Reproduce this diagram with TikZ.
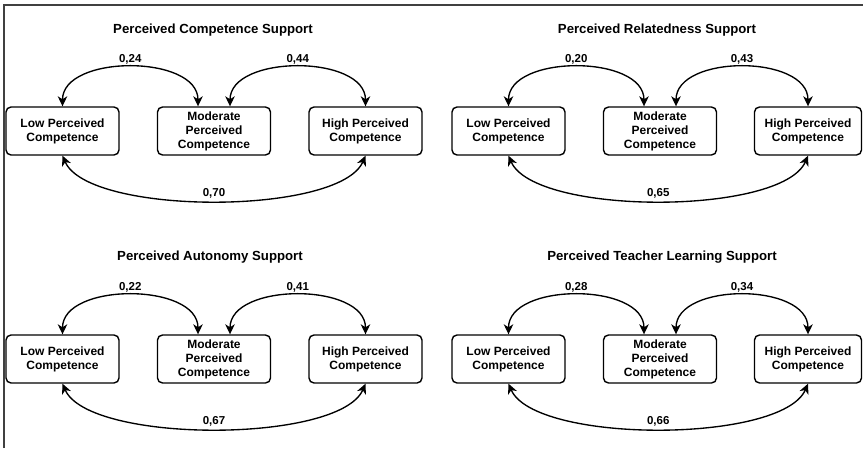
\documentclass[tikz,border=0pt]{standalone}
\usepackage{fontspec}
\setmainfont{Liberation Sans}
\usetikzlibrary{arrows.meta, calc}
\definecolor{framegray}{HTML}{404040}

\begin{document}
\begin{tikzpicture}[x=1pt, y=-1pt, >={Stealth[length=10pt, width=9.5pt, inset=3pt]}, line width=1.35pt,
  grp/.style={draw, rounded corners=5pt, line width=1.4pt, minimum width=113pt, minimum height=48pt,
    align=center, inner sep=2pt, font=\fontsize{12}{14}\selectfont\bfseries},
  heading/.style={font=\fontsize{13.2}{16}\selectfont\bfseries},
  coef/.style={font=\fontsize{11.5}{14}\selectfont\bfseries, inner sep=2pt}]
  \useasboundingbox (0,0) rectangle (863,448);
  \draw[line width=1.5pt, framegray] (4,448) -- (4,5) -- (863,5);

  % competence support (oben links)
  \node[heading] (Tc) at (213,30) {Perceived Competence Support};
  \node[grp] (Lc) at (62.5,131) {Low Perceived\\Competence};
  \node[grp] (Mc) at (214,131) {Moderate\\Perceived\\Competence};
  \node[grp] (Hc) at (365.5,131) {High Perceived\\Competence};
  \draw[<->] (Lc.north) .. controls +(0,-52) and +(0,-52) .. ($(Mc.north)+(-16,0)$) node[coef, midway, above]{0,24};
  \draw[<->] ($(Mc.north)+(16,0)$) .. controls +(0,-52) and +(0,-52) .. (Hc.north) node[coef, midway, above]{0,44};
  \draw[<->] (Lc.south) .. controls +(26,60) and +(-26,60) .. (Hc.south) node[coef, midway, above]{0,70};

  % relatedness support (oben rechts)
  \node[heading] (Tr) at (657,30) {Perceived Relatedness Support};
  \node[grp] (Lr) at (508.5,131) {Low Perceived\\Competence};
  \node[grp] (Mr) at (660,131) {Moderate\\Perceived\\Competence};
  \node[grp, minimum width=107pt] (Hr) at (808,131) {High Perceived\\Competence};
  \draw[<->] (Lr.north) .. controls +(0,-52) and +(0,-52) .. ($(Mr.north)+(-16,0)$) node[coef, midway, above]{0,20};
  \draw[<->] ($(Mr.north)+(16,0)$) .. controls +(0,-52) and +(0,-52) .. (Hr.north) node[coef, midway, above]{0,43};
  \draw[<->] (Lr.south) .. controls +(26,60) and +(-26,60) .. (Hr.south) node[coef, midway, above]{0,65};

  % autonomy support (unten links)
  \node[heading] (Ta) at (210,257) {Perceived Autonomy Support};
  \node[grp] (La) at (62.5,359) {Low Perceived\\Competence};
  \node[grp] (Ma) at (214,359) {Moderate\\Perceived\\Competence};
  \node[grp] (Ha) at (365.5,359) {High Perceived\\Competence};
  \draw[<->] (La.north) .. controls +(0,-52) and +(0,-52) .. ($(Ma.north)+(-16,0)$) node[coef, midway, above]{0,22};
  \draw[<->] ($(Ma.north)+(16,0)$) .. controls +(0,-52) and +(0,-52) .. (Ha.north) node[coef, midway, above]{0,41};
  \draw[<->] (La.south) .. controls +(26,60) and +(-26,60) .. (Ha.south) node[coef, midway, above]{0,67};

  % teacher learning support (unten rechts)
  \node[heading] (Tt) at (662,257) {Perceived Teacher Learning Support};
  \node[grp] (Lt) at (508.5,359) {Low Perceived\\Competence};
  \node[grp] (Mt) at (660,359) {Moderate\\Perceived\\Competence};
  \node[grp, minimum width=107pt] (Ht) at (808,359) {High Perceived\\Competence};
  \draw[<->] (Lt.north) .. controls +(0,-52) and +(0,-52) .. ($(Mt.north)+(-16,0)$) node[coef, midway, above]{0,28};
  \draw[<->] ($(Mt.north)+(16,0)$) .. controls +(0,-52) and +(0,-52) .. (Ht.north) node[coef, midway, above]{0,34};
  \draw[<->] (Lt.south) .. controls +(26,60) and +(-26,60) .. (Ht.south) node[coef, midway, above]{0,66};
\end{tikzpicture}
\end{document}
